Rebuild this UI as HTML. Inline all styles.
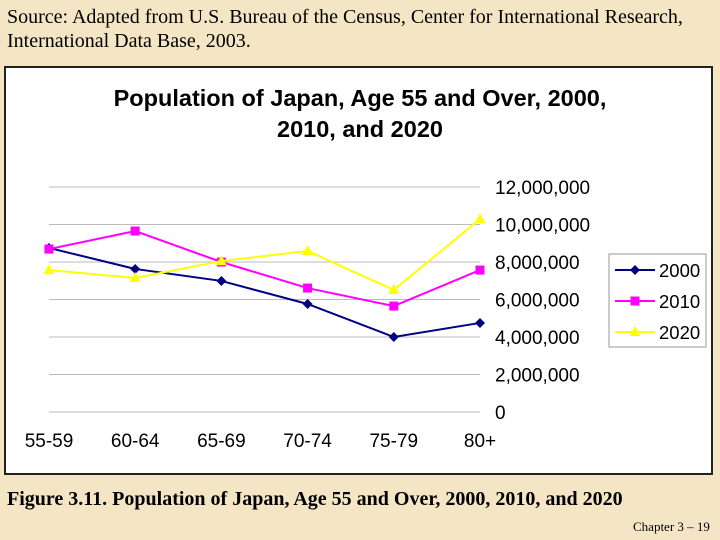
<!DOCTYPE html>
<html><head><meta charset="utf-8"><style>
body{margin:0;width:720px;height:540px;background:#f4e6c4;font-family:"Liberation Serif",serif;position:relative;overflow:hidden}
.t{position:absolute;color:#000;white-space:nowrap}
</style></head><body>
<div class="t" style="left:7px;top:5px;font-size:20px;line-height:24px">Source: Adapted from U.S. Bureau of the Census, Center for International Research,<br>International Data Base, 2003.</div>
<div class="t" style="left:7px;top:488px;font-size:20px;font-weight:bold">Figure 3.11. Population of Japan, Age 55 and Over, 2000, 2010, and 2020</div>
<div class="t" style="left:633px;top:519px;font-size:13px">Chapter 3 – 19</div>
<svg id="c" width="720" height="540" style="position:absolute;left:0;top:0" font-family="Liberation Sans, sans-serif"></svg>
<script>
const categories=["55-59","60-64","65-69","70-74","75-79","80+"];
const s2000=[8750000,7630000,6990000,5760000,4000000,4750000];
const s2010=[8690000,9650000,8000000,6610000,5650000,7570000];
const s2020=[7570000,7150000,8050000,8590000,6510000,10290000];
const ticks=[0,2000000,4000000,6000000,8000000,10000000,12000000];
const tickLabels=["0","2,000,000","4,000,000","6,000,000","8,000,000","10,000,000","12,000,000"];
const seriesNames=["2000","2010","2020"];
const svg=document.getElementById('c');const NS="http://www.w3.org/2000/svg";
function el(t,a,p){const e=document.createElementNS(NS,t);for(const k in a)e.setAttribute(k,a[k]);(p||svg).appendChild(e);return e;}
const x0=49,x1=480,yb=412,yt=187;
const X=i=>x0+i*(x1-x0)/(categories.length-1);
const Y=v=>yb-(v/12000000)*(yb-yt);
let r=el('rect',{x:5,y:67,width:707,height:407,fill:'#fff',stroke:'#222','stroke-width':2});

let t=el('text',{x:360,y:106,'text-anchor':'middle','font-size':23.5,'font-weight':'bold'});t.textContent="Population of Japan, Age 55 and Over, 2000,";

t=el('text',{x:360,y:137,'text-anchor':'middle','font-size':23.5,'font-weight':'bold'});t.textContent="2010, and 2020";

ticks.forEach((v,i)=>{const l=el('line',{x1:x0,x2:x1,y1:Y(v),y2:Y(v),stroke:'#bbb','stroke-width':1});

const tx=el('text',{x:495,y:Y(v)+7,'font-size':19});tx.textContent=tickLabels[i];
});
categories.forEach((c,i)=>{const tx=el('text',{x:X(i),y:447,'text-anchor':'middle','font-size':19});tx.textContent=c;
});
const cols=['#000080','#ff00ff','#ffff00'];const data=[s2000,s2010,s2020];
function marker(k,x,y){let m;
if(k==0)m=el('polygon',{points:`${x},${y-5} ${x+5},${y} ${x},${y+5} ${x-5},${y}`,fill:cols[0]});
else if(k==1)m=el('rect',{x:x-4.5,y:y-4.5,width:9,height:9,fill:cols[1]});
else m=el('polygon',{points:`${x},${y-6} ${x+5.5},${y+4} ${x-5.5},${y+4}`,fill:cols[2]});
}
data.forEach((d,k)=>{const p=el('polyline',{points:d.map((v,i)=>X(i)+','+Y(v)).join(' '),fill:'none',stroke:cols[k],'stroke-width':2});

d.forEach((v,i)=>marker(k,X(i),Y(v)));});
const lg=el('rect',{x:609,y:254,width:97,height:93,fill:'#fff',stroke:'#999'});

seriesNames.forEach((n,k)=>{const y=270+k*31;
const l=el('line',{x1:615,x2:655,y1:y,y2:y,stroke:cols[k],'stroke-width':2});

marker(k,635,y);
const tx=el('text',{x:659,y:y+7,'font-size':18.5});tx.textContent=n;
});
</script>
</body></html>
